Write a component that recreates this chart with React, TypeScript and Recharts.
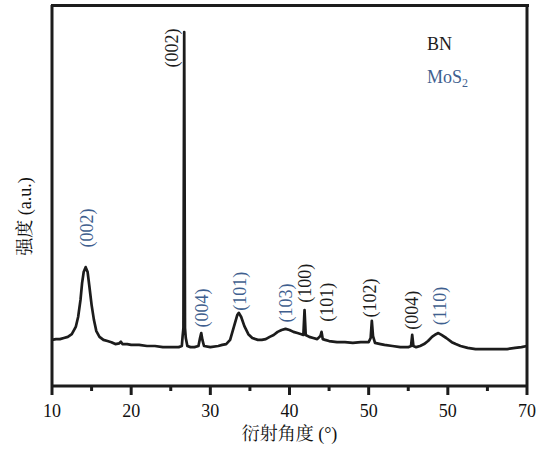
import { CartesianGrid, Line, LineChart, ReferenceDot, XAxis, YAxis } from 'recharts';

// XRD pattern
const twoTheta = [
    10, 10.5, 11, 11.5, 12, 12.5, 13, 13.3, 13.6, 13.8, 14, 14.25, 14.5, 14.7, 15, 15.3, 15.6, 16, 16.5, 17,
    17.5, 18, 18.5, 18.7, 18.9, 19.5, 20, 21, 22, 23, 24, 25, 26, 26.4, 26.5, 26.6, 26.7, 26.8, 26.9, 27.1,
    27.5, 28, 28.5, 28.7, 28.85, 29, 29.2, 30, 31, 31.5, 32, 32.5, 33, 33.4, 33.6, 33.9, 34.3, 34.8, 35.3, 36,
    36.5, 37, 37.5, 38, 38.5, 39, 39.5, 40, 40.5, 41, 41.5, 41.75, 41.9, 42.05, 42.5, 43, 43.5, 43.9, 44.05, 44.2,
    44.5, 45, 46, 47, 48, 49, 50, 50.25, 50.4, 50.55, 50.8, 51.5, 52, 53, 54, 55, 55.35, 55.5, 55.65, 56,
    56.5, 57, 57.5, 58, 58.5, 58.8, 59.2, 59.8, 60.5, 61, 61.6, 62.5, 63.5, 64.5, 65.5, 66.5, 67.5, 68.5,
    69.3, 70,
];
const intensity = [
    121, 123, 123, 126, 129, 136, 155, 181, 226, 270, 299, 312, 299, 265, 213, 173, 144, 129, 121, 118,
    115, 110, 112, 116, 110, 110, 108, 108, 105, 105, 102, 102, 102, 105, 131, 152, 929, 152, 126, 105,
    102, 102, 105, 126, 139, 121, 105, 102, 105, 108, 110, 121, 157, 186, 192, 181, 157, 136, 126, 121,
    121, 123, 129, 134, 142, 147, 150, 147, 142, 139, 136, 134, 199, 134, 129, 126, 123, 131, 142, 123,
    121, 118, 115, 115, 113, 115, 115, 126, 171, 131, 113, 110, 108, 105, 102, 102, 105, 134, 105, 102,
    105, 110, 118, 129, 136, 139, 134, 126, 115, 110, 105, 100, 97, 97, 97, 97, 97, 100,
    102, 105,
];

const axisTicks = [10, 15, 20, 25, 30, 35, 40, 45, 50, 55, 60, 65, 70];
const majorTicks = [10, 20, 30, 40, 50, 60, 70];
const majorTickLabels = ['10', '20', '30', '40', '50', '50', '70'];

// peak indices: text, phase, where the label sits (2θ, intensity)
const peakText = ['(002)', '(002)', '(004)', '(101)', '(103)', '(100)', '(101)', '(102)', '(004)', '(110)'];
const peakPhase = ['MoS2', 'BN', 'MoS2', 'MoS2', 'MoS2', 'BN', 'BN', 'BN', 'BN', 'MoS2'];
const peakLabelAngle = [14.45, 25.1, 28.9, 33.7, 39.6, 41.9, 44.7, 50.15, 55.45, 59.0];
const peakLabelHeight = [415, 887, 205, 249, 218, 270, 220, 231, 199, 210];

const data = twoTheta.map((t, i) => ({ twoTheta: t, intensity: intensity[i] }));

const FONT = '"Liberation Serif", "Noto Serif CJK SC", "Noto Sans CJK SC", serif';
const INK = '#1c1c1c';
const BLUE = '#3f5f8f';
const phaseColor: Record<string, string> = { BN: INK, MoS2: BLUE };
const frameLine = { stroke: INK, strokeWidth: 3 };

const AngleTick = (props: any) => {
    const { x, y, payload } = props;
    const idx = majorTicks.indexOf(payload.value);
    const major = idx >= 0;
    return (
        <g>
            <line x1={x} x2={x} y1={y} y2={y + (major ? 9 : 5)} stroke={INK} strokeWidth={3} />
            {major && (
                <text x={x} y={y + 31} textAnchor='middle' fontSize={18} fontFamily={FONT} fill='#111'>
                    {majorTickLabels[idx]}
                </text>
            )}
        </g>
    );
};

const rotatedLabel = (text: string, color: string) => (props: any) => {
    const { viewBox } = props;
    const cx = viewBox.x + viewBox.width / 2;
    const cy = viewBox.y + viewBox.height / 2;
    return (
        <text
            x={cx}
            y={cy}
            transform={`rotate(-90 ${cx} ${cy})`}
            textAnchor='middle'
            dominantBaseline='central'
            fontSize={18}
            fontFamily={FONT}
            fill={color}
        >
            {text}
        </text>
    );
};

const YTitle = (props: any) => {
    const { viewBox } = props;
    const cx = viewBox.x + 25;
    const cy = viewBox.y + viewBox.height / 2 + 21;
    return (
        <text
            x={cx}
            y={cy}
            transform={`rotate(-90 ${cx} ${cy})`}
            textAnchor='middle'
            dominantBaseline='central'
            fontSize={18}
            fontFamily={FONT}
            fill='#111'
        >
            强度 (a.u.)
        </text>
    );
};

export default function App() {
    return (
        <div style={{ position: 'absolute', left: 0, top: 0, width: 542, height: 449, background: '#fff' }}>
            <LineChart width={542} height={449} data={data} margin={{ top: 5, right: 15, left: 0, bottom: 0 }}>
                {/* right edge of the frame */}
                <CartesianGrid horizontal={false} verticalValues={[70]} stroke={INK} strokeWidth={3} fill='none' />
                <XAxis
                    dataKey='twoTheta'
                    type='number'
                    domain={[10, 70]}
                    ticks={axisTicks}
                    interval={0}
                    tickSize={0}
                    tickMargin={0}
                    tick={<AngleTick />}
                    height={63}
                    axisLine={frameLine}
                    tickLine={false}
                    label={{ value: '衍射角度 (°)', position: 'insideBottom', offset: 9, fontSize: 18, fontFamily: FONT, fill: '#111' }}
                />
                <YAxis type='number' domain={[0, 1000]} width={52} tick={false} tickLine={false} axisLine={frameLine} label={<YTitle />} />
                <Line
                    type='linear'
                    dataKey='intensity'
                    stroke={INK}
                    strokeWidth={2.7}
                    strokeLinejoin='round'
                    dot={false}
                    isAnimationActive={false}
                />
                {peakText.map((t, i) => (
                    <ReferenceDot
                        key={i}
                        x={peakLabelAngle[i]}
                        y={peakLabelHeight[i]}
                        r={0}
                        fill='none'
                        stroke='none'
                        label={rotatedLabel(t, phaseColor[peakPhase[i]])}
                    />
                ))}
            </LineChart>
            {/* top edge of the frame */}
            <div style={{ position: 'absolute', left: 50.5, top: 3.5, width: 478, height: 3, background: INK, pointerEvents: 'none' }} />
            <div style={{ position: 'absolute', left: 427, top: 28, fontFamily: FONT, fontSize: 18, lineHeight: '33px' }}>
                <div style={{ color: INK }}>BN</div>
                <div style={{ color: BLUE }}>
                    MoS<sub style={{ fontSize: 12, verticalAlign: '-4px' }}>2</sub>
                </div>
            </div>
        </div>
    );
}
